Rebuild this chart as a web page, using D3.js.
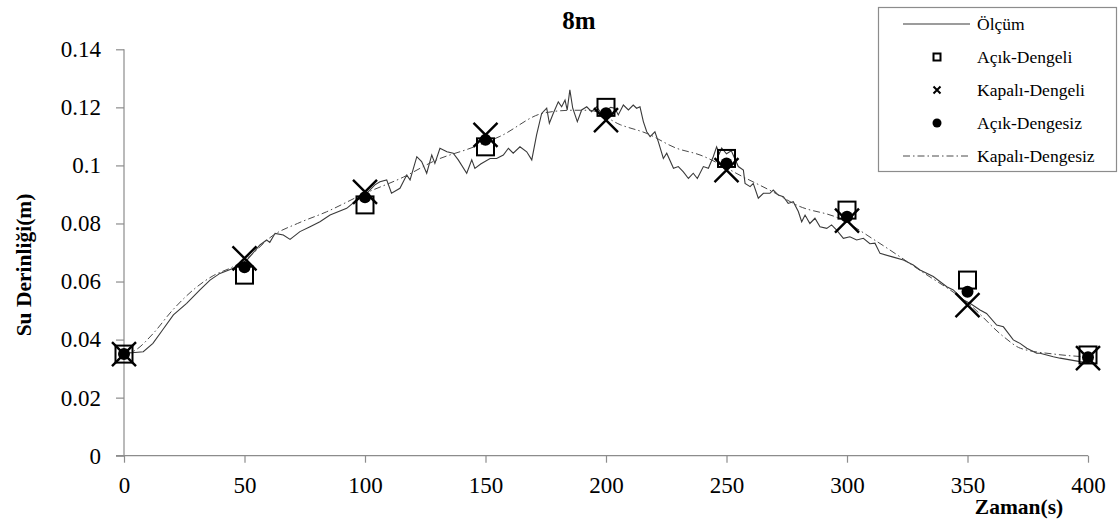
<!DOCTYPE html>
<html>
<head>
<meta charset="utf-8">
<script src="https://cdn.jsdelivr.net/npm/d3@7"></script>
<style>
  body { margin: 0; background: #fff; }
</style>
</head>
<body>
<script>
const measT = [0, 1, 8, 12, 16, 20.5, 26, 31.5, 35.7, 39.8, 45.4, 51, 56.4, 59.2, 60.5, 62.7, 66.1, 68.9, 73, 77.2,
  81.3, 85.5, 92.4, 96.6, 100.7, 104.1, 106.2, 109, 111, 114.5, 117.3, 118.7, 121.5, 123.5, 125.6, 127.7, 129,
  131.1, 134, 136.6, 138.7, 142.2, 144.3, 145.6, 148, 151.9, 154.6, 157.4, 159.5, 161.5, 164.3, 167.1, 169.2,
  171.2, 173.3, 175.4, 176.5, 178.1, 180.2, 181.6, 183, 183.9, 185, 186.2, 188.1, 189.9, 192, 194, 196.1, 198,
  200, 202, 203.7, 205.1, 207.2, 209.3, 211.3, 212.7, 214.1, 215.5, 216.9, 218.3, 220.3, 221.7, 223.8, 225.2,
  228, 230, 232.1, 234.2, 236.2, 237.9, 240.4, 242.5, 244.5, 245.9, 247, 248, 250, 252, 254.9, 257, 257.7,
  259.8, 261.1, 263.2, 265.3, 268, 269.4, 271.5, 273.6, 275.6, 277.7, 279.8, 281.2, 282.6, 284.6, 286.7, 288.8,
  291.6, 293.6, 295.7, 298.5, 301.2, 304, 306.8, 309.5, 311.6, 313.7, 319.2, 323.4, 327.5, 330.3, 335.8, 341.4,
  344.1, 348.3, 351, 355.2, 357.9, 362.1, 364.9, 369, 371.8, 374.6, 378.7, 380.1, 385.6, 388.4, 396.7, 400];
const measY = [0.035, 0.0353, 0.0358, 0.0387, 0.0433, 0.0485, 0.0525, 0.0571, 0.0605, 0.0628, 0.0646, 0.0674,
  0.0726, 0.0743, 0.0735, 0.0766, 0.076, 0.0745, 0.0772, 0.0789, 0.0806, 0.0829, 0.0852, 0.0881, 0.0904, 0.0933,
  0.0944, 0.095, 0.0904, 0.0921, 0.0967, 0.095, 0.103, 0.1013, 0.0973, 0.1036, 0.1007, 0.1059, 0.1047, 0.1042,
  0.1019, 0.0973, 0.1019, 0.099, 0.1005, 0.1024, 0.1024, 0.1036, 0.1059, 0.1042, 0.1064, 0.1047, 0.1019, 0.1105,
  0.1179, 0.1197, 0.1145, 0.1179, 0.1219, 0.1202, 0.1225, 0.1191, 0.126, 0.1197, 0.1151, 0.1191, 0.1202, 0.1185,
  0.1202, 0.118, 0.119, 0.12, 0.1197, 0.1174, 0.1208, 0.1191, 0.1208, 0.1197, 0.1202, 0.1151, 0.1116, 0.1099,
  0.1116, 0.1082, 0.1024, 0.1042, 0.099, 0.0996, 0.0978, 0.0955, 0.0973, 0.0955, 0.0996, 0.099, 0.103, 0.1064,
  0.104, 0.106, 0.104, 0.105, 0.0996, 0.0984, 0.0938, 0.0927, 0.0938, 0.0887, 0.0904, 0.0904, 0.0915, 0.0898,
  0.0892, 0.0869, 0.0875, 0.0841, 0.0806, 0.0829, 0.08, 0.0818, 0.0789, 0.0783, 0.0795, 0.0777, 0.0749, 0.0754,
  0.0743, 0.0749, 0.073, 0.0732, 0.0697, 0.0684, 0.0674, 0.0657, 0.064, 0.0617, 0.0582, 0.0571, 0.0536, 0.0525,
  0.0502, 0.049, 0.045, 0.0444, 0.0399, 0.0387, 0.037, 0.0353, 0.0353, 0.0341, 0.0336, 0.0324, 0.032];

// Kapalı-Dengesiz (dash-dot line)
const kdT = [0, 4, 12, 20, 30, 37, 45, 51, 62, 72, 84, 99, 116, 130, 144, 156, 174, 186, 193, 206, 217, 229,
  239, 257, 269, 280, 296, 312, 330, 351, 365, 372, 386, 400];
const kdY = [0.035, 0.036, 0.042, 0.050, 0.058, 0.062, 0.065, 0.068, 0.076, 0.080, 0.084, 0.090, 0.096, 0.102,
  0.106, 0.110, 0.118, 0.119, 0.119, 0.114, 0.111, 0.106, 0.1036, 0.096, 0.091, 0.086, 0.082, 0.074, 0.064,
  0.052, 0.041, 0.037, 0.035, 0.034];

// marker series at every 50 s
const markT = [0, 50, 100, 150, 200, 250, 300, 350, 400];
const acikDengeli = [0.035, 0.0622, 0.0864, 0.1064, 0.120, 0.1024, 0.0846, 0.0605, 0.0347];
const kapaliDengeli = [0.035, 0.068, 0.0909, 0.1105, 0.1156, 0.0984, 0.081, 0.0519, 0.0336];
const acikDengesiz = [0.035, 0.0649, 0.089, 0.1088, 0.118, 0.1007, 0.0823, 0.0565, 0.0339];

const xTicks = [0, 50, 100, 150, 200, 250, 300, 350, 400];
const yTicks = [0, 0.02, 0.04, 0.06, 0.08, 0.1, 0.12, 0.14];
const legendNames = ["Ölçüm", "Açık-Dengeli", "Kapalı-Dengeli", "Açık-Dengesiz", "Kapalı-Dengesiz"];

const serif = "'Liberation Serif', 'Times New Roman', serif";
const width = 1118, height = 521;
const svg = d3.select("body").append("svg")
  .attr("width", width)
  .attr("height", height)
  .style("font-family", serif);

const x = d3.scaleLinear().domain([0, 400]).range([124, 1088]);
const y = d3.scaleLinear().domain([0, 0.14]).range([455.7, 49.3]);
const axisColor = "#8c8c8c";

// axes
const yAxis = svg.append("g")
  .attr("transform", "translate(124,0)")
  .call(d3.axisLeft(y).tickValues(yTicks).tickSize(8).tickPadding(15)
    .tickFormat(d => String(+d.toFixed(2))));
const xAxis = svg.append("g")
  .attr("transform", "translate(0,455.7)")
  .call(d3.axisBottom(x).tickValues(xTicks).tickSize(7).tickPadding(14)
    .tickFormat(d => d));

[xAxis, yAxis].forEach(g => {
  g.attr("font-family", null).attr("font-size", null);
  g.select(".domain").attr("stroke", axisColor).attr("stroke-width", 1.2);
  g.selectAll(".tick line").attr("stroke", axisColor).attr("stroke-width", 1.2);
  g.selectAll(".tick text")
    .attr("fill", "#000")
    .style("font-family", serif)
    .style("font-size", "23px");
});
// x axis line starts a bit left of the y axis (as in the original)
xAxis.select(".domain").attr("d", "M116,0H1088");
yAxis.select(".domain").attr("d", "M0,49.3V455.7");

// lines
const line = d3.line().x(d => x(d[0])).y(d => y(d[1]));
svg.append("path")
  .datum(measT.map((t, i) => [t, measY[i]]))
  .attr("d", line)
  .attr("fill", "none")
  .attr("stroke", "#3a3a3a")
  .attr("stroke-width", 1.1);

svg.append("path")
  .datum(kdT.map((t, i) => [t, kdY[i]]))
  .attr("d", line.curve(d3.curveMonotoneX))
  .attr("fill", "none")
  .attr("stroke", "#4a4a4a")
  .attr("stroke-width", 1)
  .attr("stroke-dasharray", "7,3,1.5,3");

// markers
const sq = 17;
svg.selectAll("rect.ad")
  .data(markT.map((t, i) => [t, acikDengeli[i]]))
  .enter().append("rect")
  .attr("class", "ad")
  .attr("x", d => x(d[0]) - sq / 2)
  .attr("y", d => y(d[1]) - sq / 2)
  .attr("width", sq)
  .attr("height", sq)
  .attr("fill", "none")
  .attr("stroke", "#000")
  .attr("stroke-width", 2);

const cr = 12;
svg.selectAll("path.kd")
  .data(markT.map((t, i) => [t, kapaliDengeli[i]]))
  .enter().append("path")
  .attr("class", "kd")
  .attr("d", d => {
    const cx = x(d[0]), cy = y(d[1]);
    return `M${cx - cr},${cy - cr}L${cx + cr},${cy + cr}M${cx - cr},${cy + cr}L${cx + cr},${cy - cr}`;
  })
  .attr("stroke", "#000")
  .attr("stroke-width", 2.4);

svg.selectAll("circle.adz")
  .data(markT.map((t, i) => [t, acikDengesiz[i]]))
  .enter().append("circle")
  .attr("class", "adz")
  .attr("cx", d => x(d[0]))
  .attr("cy", d => y(d[1]))
  .attr("r", 6)
  .attr("fill", "#000");

// titles
svg.append("text")
  .attr("x", 579).attr("y", 29)
  .attr("text-anchor", "middle")
  .style("font-family", serif)
  .style("font-size", "25px").style("font-weight", "bold")
  .text("8m");

svg.append("text")
  .attr("transform", "translate(31,265) rotate(-90)")
  .attr("text-anchor", "middle")
  .style("font-family", serif)
  .style("font-size", "21.5px").style("font-weight", "bold")
  .text("Su Derinliği(m)");

svg.append("text")
  .attr("x", 1019).attr("y", 514)
  .attr("text-anchor", "middle")
  .style("font-family", serif)
  .style("font-size", "21.5px").style("font-weight", "bold")
  .text("Zaman(s)");

// legend
const lg = svg.append("g");
lg.append("rect")
  .attr("x", 878.5).attr("y", 7.5)
  .attr("width", 238).attr("height", 164)
  .attr("fill", "#fff")
  .attr("stroke", "#8c8c8c")
  .attr("stroke-width", 1.2);

const rowY = i => 24 + i * 33;
lg.selectAll("text")
  .data(legendNames)
  .enter().append("text")
  .attr("x", 977)
  .attr("y", (d, i) => rowY(i) + 6)
  .style("font-family", serif)
  .style("font-size", "17.5px")
  .text(d => d);

lg.append("line").attr("x1", 903).attr("x2", 970).attr("y1", rowY(0)).attr("y2", rowY(0))
  .attr("stroke", "#3a3a3a").attr("stroke-width", 1.1);
lg.append("line").attr("x1", 903).attr("x2", 970).attr("y1", rowY(4)).attr("y2", rowY(4))
  .attr("stroke", "#4a4a4a").attr("stroke-width", 1).attr("stroke-dasharray", "7,3,1.5,3");
lg.append("rect").attr("x", 937 - 3.5).attr("y", rowY(1) - 3.5).attr("width", 7).attr("height", 7)
  .attr("fill", "none").attr("stroke", "#000").attr("stroke-width", 2);
lg.append("path")
  .attr("d", `M${937 - 3.5},${rowY(2) - 3.5}L${937 + 3.5},${rowY(2) + 3.5}M${937 - 3.5},${rowY(2) + 3.5}L${937 + 3.5},${rowY(2) - 3.5}`)
  .attr("stroke", "#000").attr("stroke-width", 2);
lg.append("circle").attr("cx", 937).attr("cy", rowY(3)).attr("r", 4.5).attr("fill", "#000");
</script>
</body>
</html>
